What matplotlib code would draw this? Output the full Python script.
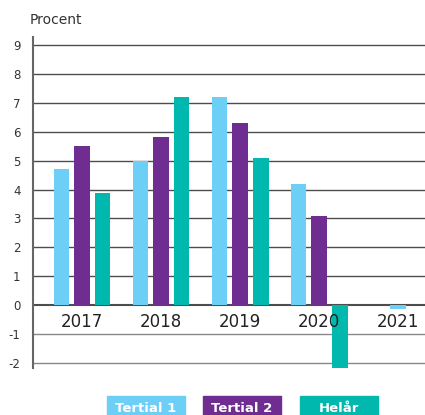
import matplotlib.pyplot as plt
from matplotlib.patches import Rectangle
import numpy as np

plt.rcParams['axes.unicode_minus'] = False

years = ['2017', '2018', '2019', '2020', '2021']
tertial1 = [4.7, 5.0, 7.2, 4.2, -0.15]
tertial2 = [5.5, 5.8, 6.3, 3.1, np.nan]
helar = [3.87, 7.2, 5.1, -2.2, np.nan]
series_names = ['Tertial 1', 'Tertial 2', 'Helår']
colors = ['#6DCFF6', '#6F2C91', '#00B8AD']

fig = plt.figure(figsize=(4.25, 4.15), dpi=100)
ax = fig.add_axes([33/425, 0.113, 392/425, 0.798])

series = np.array([tertial1, tertial2, helar])
w = 0.2
step = 0.26
for g in range(len(years)):
    present = [i for i in range(3) if not np.isnan(series[i, g])]
    n = len(present)
    for k, i in enumerate(present):
        ax.bar(g + (k - (n - 1) / 2) * step, series[i, g], width=w,
               color=colors[i], zorder=3)

for v in range(-2, 10):
    ax.axhline(v, color='#4d4d4d' if v >= 0 else '#888888',
               lw=1.5 if v == 0 else 1.0, zorder=1)

for xi, yr in enumerate(years):
    ax.text(xi, -0.6, yr, ha='center', va='center', fontsize=12,
            color='#222222', zorder=5)

ax.set_xlim(-0.62, 4.34)
ax.set_ylim(-2.18, 9.28)
ax.set_yticks(range(-2, 10))
ax.set_xticks([])
ax.tick_params(axis='y', length=0, pad=9, labelsize=8.5, colors='#333333')
for s in ['top', 'right', 'bottom']:
    ax.spines[s].set_visible(False)
ax.spines['left'].set_color('#666666')
ax.spines['left'].set_linewidth(1.5)

fig.text(30/425, 1 - 20/415, 'Procent', fontsize=10, color='#333333',
         va='center', ha='left')

# legend boxes along the bottom
box_left = [107, 203, 300]
for name, c, bx in zip(series_names, colors, box_left):
    fig.patches.append(Rectangle((bx/425, 0), 78/425, 19/415,
                                 transform=fig.transFigure, color=c))
    fig.text((bx + 39)/425, 1 - 408/415, name, ha='center', va='center',
             fontsize=9.5, fontweight='bold', color='white')

fig.savefig('out.png', dpi=100)
